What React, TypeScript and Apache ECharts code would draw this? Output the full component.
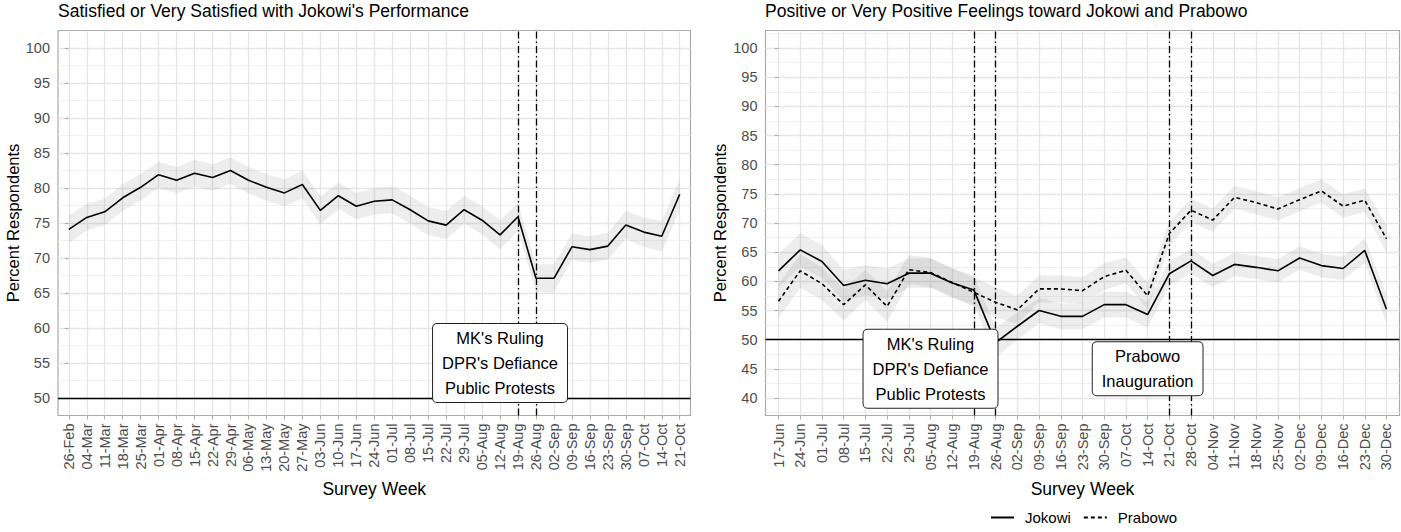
import React, { useEffect, useRef } from "react";
import * as echarts from "echarts";

// ---------- data ----------
const weeksA = [
  "26-Feb", "04-Mar", "11-Mar", "18-Mar", "25-Mar", "01-Apr", "08-Apr", "15-Apr", "22-Apr", "29-Apr",
  "06-May", "13-May", "20-May", "27-May", "03-Jun", "10-Jun", "17-Jun", "24-Jun", "01-Jul", "08-Jul",
  "15-Jul", "22-Jul", "29-Jul", "05-Aug", "12-Aug", "19-Aug", "26-Aug", "02-Sep", "09-Sep", "16-Sep",
  "23-Sep", "30-Sep", "07-Oct", "14-Oct", "21-Oct",
];
const satisfied = [
  74.1, 75.8, 76.6, 78.6, 80.1, 81.9, 81.1, 82.1, 81.5, 82.5,
  81.1, 80.1, 79.3, 80.5, 76.8, 78.9, 77.4, 78.1, 78.3, 76.9,
  75.3, 74.7, 76.9, 75.4, 73.3, 75.9, 67.1, 67.1, 71.6, 71.2,
  71.7, 74.7, 73.7, 73.1, 79.1,
];
const satisfiedHalf = [
  2.0, 1.9, 1.9, 1.9, 1.9, 1.9, 1.9, 1.9, 1.9, 1.9,
  1.9, 1.9, 1.9, 2.0, 2.0, 1.9, 1.9, 1.9, 1.9, 2.0,
  2.0, 2.0, 2.0, 2.0, 2.1, 2.0, 2.0, 2.0, 1.9, 1.9,
  1.9, 2.0, 2.1, 2.2, 2.2,
];

const weeksB = [
  "17-Jun", "24-Jun", "01-Jul", "08-Jul", "15-Jul", "22-Jul", "29-Jul", "05-Aug", "12-Aug", "19-Aug",
  "26-Aug", "02-Sep", "09-Sep", "16-Sep", "23-Sep", "30-Sep", "07-Oct", "14-Oct", "21-Oct", "28-Oct",
  "04-Nov", "11-Nov", "18-Nov", "25-Nov", "02-Dec", "09-Dec", "16-Dec", "23-Dec", "30-Dec",
];
const jokowiFeel = [
  61.8, 65.4, 63.4, 59.3, 60.2, 59.6, 61.4, 61.4, 59.7, 58.5,
  49.5, 52.3, 55.0, 54.0, 54.0, 56.0, 56.0, 54.3, 61.3, 63.5,
  61.0, 62.9, 62.4, 61.8, 64.0, 62.7, 62.2, 65.3, 55.2,
];
const jokowiHalf = [
  2.8, 2.9, 2.8, 2.7, 2.6, 2.6, 2.5, 2.5, 2.5, 2.5,
  2.6, 2.3, 2.2, 2.2, 2.2, 2.2, 2.2, 2.2, 2.1, 2.1,
  2.0, 2.0, 2.0, 2.0, 2.0, 2.0, 2.0, 2.1, 2.5,
];
const prabowoFeel = [
  56.6, 61.8, 59.6, 56.0, 59.4, 55.7, 62.0, 61.5, 59.8, 58.1,
  56.4, 55.1, 58.7, 58.7, 58.4, 60.8, 61.9, 57.5, 68.2, 72.2,
  70.5, 74.4, 73.5, 72.4, 74.0, 75.5, 72.9, 73.9, 67.3,
];
const prabowoHalf = [
  2.9, 2.9, 2.8, 2.7, 2.6, 2.6, 2.5, 2.5, 2.5, 2.5,
  2.6, 2.4, 2.3, 2.3, 2.3, 2.3, 2.2, 2.3, 2.1, 2.0,
  2.0, 2.0, 2.0, 2.0, 2.0, 2.0, 2.0, 2.0, 2.4,
];

const eventWeeksA = ["19-Aug", "26-Aug"];
const eventWeeksB = ["19-Aug", "26-Aug", "21-Oct", "28-Oct"];
const yTicksA = [50, 55, 60, 65, 70, 75, 80, 85, 90, 95, 100];
const yTicksB = [40, 45, 50, 55, 60, 65, 70, 75, 80, 85, 90, 95, 100];
const notesA = [{ week: "12-Aug", y: 55, text: "MK's Ruling\nDPR's Defiance\nPublic Protests" }];
const notesB = [
  { week: "05-Aug", y: 45, text: "MK's Ruling\nDPR's Defiance\nPublic Protests" },
  { week: "14-Oct", y: 45, text: "Prabowo\nInauguration" },
];
const titleA = "Satisfied or Very Satisfied with Jokowi's Performance";
const titleB = "Positive or Very Positive Feelings toward Jokowi and Prabowo";

// ---------- style ----------
const FONT = "'Liberation Sans', Arial, Helvetica, sans-serif";
const MAJ = "#E5E5E5";
const MIN = "#EEEEEE";
const BORDER = "#ABABAB";
const BAND = "rgba(128,128,128,0.14)";
const DOTDASH = [7, 3, 1.5, 3];

function xAxisFor(gridIndex: number, cats: string[]) {
  const idx = cats.map((_, i) => i);
  return {
    type: "value",
    gridIndex,
    min: -0.6,
    max: cats.length - 1 + 0.6,
    axisLine: { show: false },
    axisTick: { show: true, customValues: idx, length: 4, lineStyle: { color: BORDER, width: 1 } },
    axisLabel: {
      customValues: idx,
      rotate: 90,
      margin: 8,
      fontSize: 14.5,
      color: "#4D4D4D",
      fontFamily: FONT,
      formatter: (v: number) => {
        const k = Math.round(v);
        return Math.abs(v - k) < 1e-6 && cats[k] ? cats[k] : "";
      },
    },
    splitLine: { show: false },
    name: "Survey Week",
    nameLocation: "middle",
    nameGap: 64,
    nameTextStyle: { fontSize: 17.5, color: "#000", fontFamily: FONT },
  };
}

function yAxisFor(gridIndex: number, min: number, max: number, ticks: number[]) {
  return {
    type: "value",
    gridIndex,
    min,
    max,
    axisLine: { show: false },
    axisTick: { show: true, customValues: ticks, length: 4, lineStyle: { color: BORDER, width: 1 } },
    axisLabel: {
      customValues: ticks,
      margin: 8,
      fontSize: 14.5,
      color: "#4D4D4D",
      fontFamily: FONT,
      formatter: (v: number) => (ticks.indexOf(v) >= 0 ? String(v) : ""),
    },
    splitLine: { show: false },
    name: "Percent Respondents",
    nameLocation: "middle",
    nameGap: 37,
    nameTextStyle: { fontSize: 16.5, color: "#000", fontFamily: FONT },
  };
}

// panel grid lines: one per category, majors at the y ticks, minors halfway between
function gridSeries(idx: number, cats: string[], vals: number[], ticks: number[], min: number, max: number) {
  const step = ticks[1] - ticks[0];
  const minors = [ticks[0] - step / 2, ...ticks.map((t) => t + step / 2)].filter((v) => v > min + 0.1 && v < max - 0.1);
  const solid = (color: string, width: number) => ({ color, width, type: "solid" });
  return {
    type: "line",
    name: "grid" + idx,
    xAxisIndex: idx,
    yAxisIndex: idx,
    data: vals.map((v, i) => [i, v]),
    symbol: "none",
    silent: true,
    lineStyle: { opacity: 0 },
    z: 0,
    markLine: {
      silent: true,
      symbol: "none",
      z: 0,
      label: { show: false },
      data: [
        ...minors.map((v) => ({ yAxis: v, lineStyle: solid(MIN, 0.9) })),
        ...ticks.map((v) => ({ yAxis: v, lineStyle: solid(MAJ, 1.3) })),
        ...cats.map((_, i) => ({ xAxis: i, lineStyle: solid(MAJ, 1.3) })),
      ],
    },
  };
}

function bandSeries(idx: number, vals: number[], half: number[]) {
  return {
    type: "custom",
    xAxisIndex: idx,
    yAxisIndex: idx,
    silent: true,
    z: 1,
    data: vals.map((v, i) => [i, v - half[i], v + half[i]]),
    encode: { x: 0, y: [1, 2] },
    renderItem: (params: any, api: any) => {
      if (params.dataIndexInside !== 0) return null;
      const upper: number[][] = [];
      const lower: number[][] = [];
      for (let j = 0; j < vals.length; j++) {
        upper.push(api.coord([api.value(0, j), api.value(2, j)]));
        lower.push(api.coord([api.value(0, j), api.value(1, j)]));
      }
      return { type: "polygon", shape: { points: upper.concat(lower.reverse()) }, style: { fill: BAND } };
    },
  };
}

function noteSeries(idx: number, cats: string[], notes: { week: string; y: number; text: string }[]) {
  return {
    type: "custom",
    xAxisIndex: idx,
    yAxisIndex: idx,
    silent: true,
    z: 20,
    data: notes.map((n) => [cats.indexOf(n.week), n.y]),
    encode: { x: 0, y: 1 },
    renderItem: (params: any, api: any) => {
      const p = api.coord([api.value(0), api.value(1)]);
      return {
        type: "text",
        x: p[0],
        y: p[1],
        z2: 100,
        style: {
          text: notes[params.dataIndex].text,
          fontSize: 16.5,
          lineHeight: 25,
          fontFamily: FONT,
          fill: "#000",
          align: "center",
          verticalAlign: "middle",
          backgroundColor: "#fff",
          borderColor: "#222",
          borderWidth: 1,
          borderRadius: 4,
          padding: [2, 9, 1, 9],
        },
      };
    },
  };
}

const vline = (cats: string[], weeks: string[]) =>
  weeks.map((w) => ({ xAxis: cats.indexOf(w), lineStyle: { type: DOTDASH, color: "#000", width: 1.3 } }));

export default function App() {
  const ref = useRef<HTMLDivElement>(null);
  useEffect(() => {
    if (!ref.current) return;
    const chart = echarts.init(ref.current, null, { renderer: "svg" });
    const titleStyle = { fontSize: 17.5, fontWeight: "normal", color: "#000", fontFamily: FONT };
    chart.setOption({
      animation: false,
      backgroundColor: "#fff",
      textStyle: { fontFamily: FONT },
      title: [
        { text: titleA, left: 58, top: 2, padding: 0, textStyle: titleStyle },
        { text: titleB, left: 765, top: 2, padding: 0, textStyle: titleStyle },
      ],
      legend: {
        data: ["Jokowi", "Prabowo"],
        left: 990,
        top: 510,
        padding: 0,
        itemWidth: 23,
        itemHeight: 16,
        itemGap: 12,
        itemStyle: { opacity: 0 },
        textStyle: { fontSize: 15, color: "#000", fontFamily: FONT, padding: [0, 0, 0, 6] },
      },
      grid: [
        { left: 58, top: 30.5, width: 632.5, height: 385, show: true, borderColor: BORDER, borderWidth: 1.2, backgroundColor: "transparent" },
        { left: 765.5, top: 30.5, width: 634, height: 385, show: true, borderColor: BORDER, borderWidth: 1.2, backgroundColor: "transparent" },
      ],
      xAxis: [xAxisFor(0, weeksA), xAxisFor(1, weeksB)],
      yAxis: [yAxisFor(0, 47.5, 102.5, yTicksA), yAxisFor(1, 37, 103, yTicksB)],
      series: [
        gridSeries(0, weeksA, satisfied, yTicksA, 47.5, 102.5),
        gridSeries(1, weeksB, jokowiFeel, yTicksB, 37, 103),
        bandSeries(0, satisfied, satisfiedHalf),
        bandSeries(1, jokowiFeel, jokowiHalf),
        bandSeries(1, prabowoFeel, prabowoHalf),
        {
          type: "line",
          name: "Satisfied",
          xAxisIndex: 0,
          yAxisIndex: 0,
          data: satisfied.map((v, i) => [i, v]),
          symbol: "none",
          lineStyle: { color: "#000", width: 1.6 },
          z: 5,
          markLine: {
            silent: true,
            symbol: "none",
            label: { show: false },
            data: [...vline(weeksA, eventWeeksA), { yAxis: 50, lineStyle: { type: "solid", color: "#000", width: 1.3 } }],
          },
        },
        {
          type: "line",
          name: "Jokowi",
          xAxisIndex: 1,
          yAxisIndex: 1,
          data: jokowiFeel.map((v, i) => [i, v]),
          symbol: "none",
          itemStyle: { color: "#000" },
          lineStyle: { color: "#000", width: 1.6 },
          z: 5,
          markLine: {
            silent: true,
            symbol: "none",
            label: { show: false },
            data: [...vline(weeksB, eventWeeksB), { yAxis: 50, lineStyle: { type: "solid", color: "#000", width: 1.3 } }],
          },
        },
        {
          type: "line",
          name: "Prabowo",
          xAxisIndex: 1,
          yAxisIndex: 1,
          data: prabowoFeel.map((v, i) => [i, v]),
          symbol: "none",
          itemStyle: { color: "#000" },
          lineStyle: { color: "#000", width: 1.6, type: [4, 3] },
          z: 5,
        },
        noteSeries(0, weeksA, notesA),
        noteSeries(1, weeksB, notesB),
      ],
    });
    return () => chart.dispose();
  }, []);
  return <div ref={ref} style={{ position: "fixed", left: 0, top: 0, width: 1401, height: 532 }} />;
}
